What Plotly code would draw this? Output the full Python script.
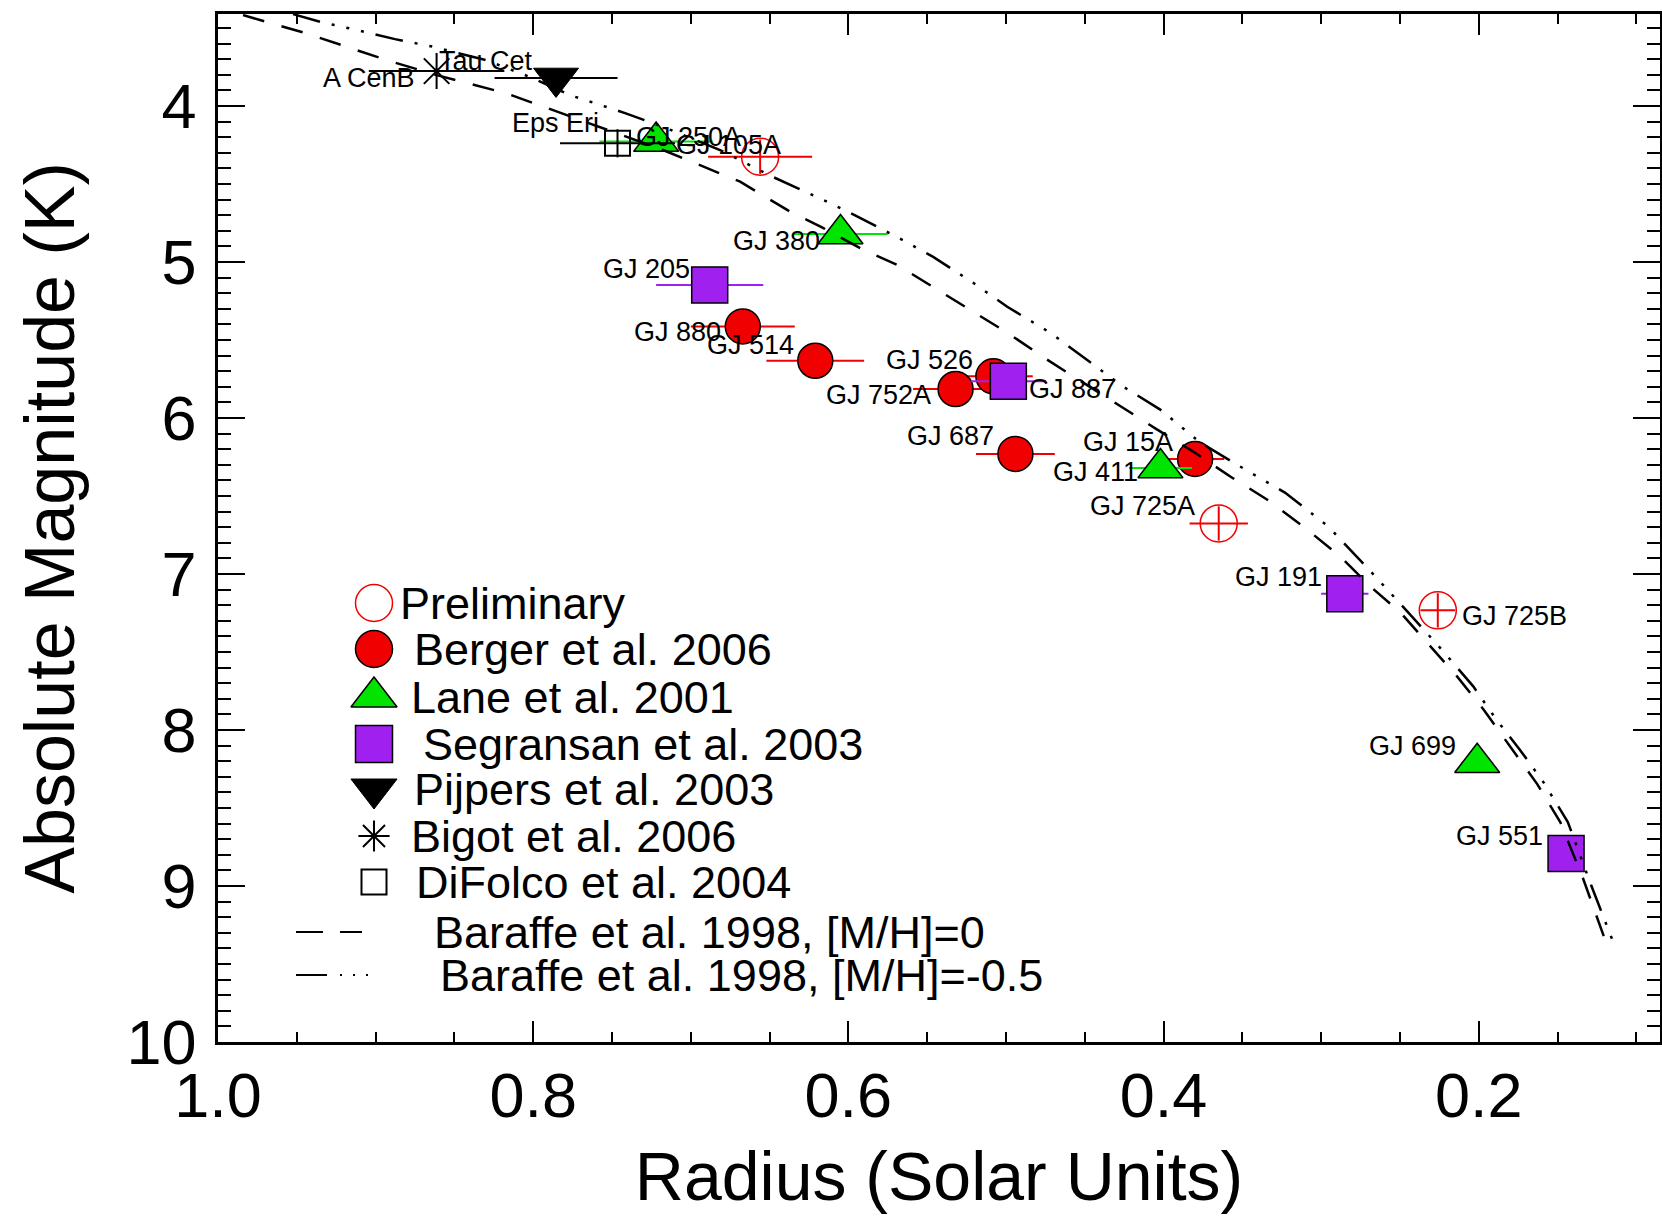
import plotly.graph_objects as go

# ---------------- data ----------------
prelim_names = ["GJ 105A", "GJ 725A", "GJ 725B"]
prelim_radius = [0.656, 0.365, 0.226]
prelim_radius_err = [0.033, 0.0185, 0.011]
prelim_mk = [4.325, 6.676, 7.233]
prelim_mk_err = [0.11, 0.11, 0.11]

berger_names = ["GJ 880", "GJ 514", "GJ 752A", "GJ 526", "GJ 687", "GJ 15A"]
berger_radius = [0.667, 0.621, 0.532, 0.508, 0.494, 0.380]
berger_radius_err = [0.033, 0.031, 0.027, 0.025, 0.025, 0.0185]
berger_mk = [5.413, 5.633, 5.814, 5.733, 6.230, 6.262]

lane_names = ["GJ 250A", "GJ 380", "GJ 411", "GJ 699"]
lane_radius = [0.722, 0.605, 0.402, 0.201]
lane_radius_err = [0.036, 0.030, 0.020, 0.010]
lane_mk = [4.228, 4.82, 6.32, 8.21]

segransan_names = ["GJ 205", "GJ 887", "GJ 191", "GJ 551"]
segransan_radius = [0.688, 0.4985, 0.285, 0.1446]
segransan_radius_err = [0.034, 0.024, 0.015, 0.0]
segransan_mk = [5.148, 5.764, 7.126, 8.791]

pijpers_names = ["Tau Cet"]
pijpers_radius = [0.7855]
pijpers_radius_err = [0.039]
pijpers_mk = [3.82]

bigot_names = ["A CenB"]
bigot_radius = [0.8613]
bigot_radius_err = [0.043]
bigot_mk = [3.776]

difolco_names = ["Eps Eri"]
difolco_radius = [0.7465]
difolco_radius_err = [0.0365]
difolco_mk = [4.239]
difolco_mk_err = [0.09]

# Baraffe et al. 1998 models
baraffe_solar_radius = [0.9841, 0.9437, 0.8929, 0.8612, 0.8168, 0.7874, 0.7176, 0.6687,
                        0.6370, 0.6161, 0.5906, 0.5691, 0.5437, 0.5208, 0.4992, 0.4739,
                        0.4510, 0.4275, 0.4040, 0.3812, 0.3577, 0.3344, 0.3114, 0.2879,
                        0.2689, 0.2498, 0.2308, 0.2138, 0.1971, 0.1800, 0.1629, 0.1483,
                        0.1337, 0.1178]
baraffe_solar_mk = [3.417, 3.535, 3.706, 3.802, 3.919, 4.026, 4.282, 4.485,
                    4.677, 4.781, 4.922, 5.018, 5.178, 5.317, 5.453, 5.626,
                    5.773, 5.927, 6.074, 6.215, 6.375, 6.522, 6.695, 6.887,
                    7.079, 7.246, 7.463, 7.656, 7.867, 8.104, 8.347, 8.590,
                    8.955, 9.403]

baraffe_poor_radius = [0.9524, 0.9353, 0.9162, 0.8877, 0.8635, 0.8299, 0.8020, 0.7766,
                       0.7417, 0.7157, 0.6814, 0.6478, 0.6160, 0.5989, 0.5691, 0.5462,
                       0.5208, 0.4992, 0.4719, 0.4466, 0.4256, 0.4021, 0.3768, 0.3514,
                       0.3230, 0.2955, 0.2680, 0.2425, 0.2220, 0.2035, 0.1890, 0.1742,
                       0.1590, 0.1435, 0.1285, 0.1130]
baraffe_poor_mk = [3.411, 3.460, 3.503, 3.571, 3.620, 3.706, 3.814, 3.930,
                   4.045, 4.141, 4.282, 4.455, 4.602, 4.685, 4.839, 4.967,
                   5.133, 5.287, 5.453, 5.645, 5.799, 5.946, 6.157, 6.311,
                   6.478, 6.695, 6.990, 7.271, 7.502, 7.720, 7.931, 8.123,
                   8.334, 8.590, 9.000, 9.403]

x_title = "Radius (Solar Units)"
y_title = "Absolute Magnitude (K)"

# ---------------- styles ----------------
FONT = "Liberation Sans, Arial, Helvetica, sans-serif"
RED = "#F00000"
GREEN = "#00E400"
PURPLE = "#A020F0"
BLACK = "#000000"

# label placement: name -> (xanchor, xshift px, yshift px)
label_pos = {
    "A CenB": ("right", -20, -7), "Tau Cet": ("right", -21, 17),
    "Eps Eri": ("right", -17, 20), "GJ 250A": ("left", -22, 5),
    "GJ 105A": ("left", -86, 12), "GJ 380": ("right", -19, -7),
    "GJ 205": ("right", -18, 16), "GJ 880": ("right", -20, -6),
    "GJ 514": ("right", -19, 16), "GJ 752A": ("right", -23, -6),
    "GJ 526": ("right", -18, 16), "GJ 887": ("left", 19, -8),
    "GJ 687": ("right", -19, 18), "GJ 15A": ("right", -20, 17),
    "GJ 411": ("right", -20, -4), "GJ 725A": ("right", -22, 17),
    "GJ 191": ("right", -21, 17), "GJ 725B": ("left", 22, -6),
    "GJ 699": ("right", -19, 17), "GJ 551": ("right", -21, 17),
}

fig = go.Figure()


def err(arr, color):
    return dict(type="data", array=arr, color=color, thickness=2, width=0)


series = [
    # names, x, xerr, y, yerr, symbol, size, color, outline color, outline width, bar color
    (berger_names, berger_radius, berger_radius_err, berger_mk, None, "circle", 35, RED, BLACK, 1.5, RED),
    (lane_names, lane_radius, lane_radius_err, lane_mk, None, "triangle-up", 39, GREEN, BLACK, 1.5, GREEN),
    (segransan_names, segransan_radius, segransan_radius_err, segransan_mk, None, "square", 36, PURPLE, BLACK, 1.5, PURPLE),
    (pijpers_names, pijpers_radius, pijpers_radius_err, pijpers_mk, None, "triangle-down", 39, BLACK, BLACK, 1, BLACK),
    (bigot_names, bigot_radius, bigot_radius_err, bigot_mk, None, "asterisk-open", 30, BLACK, BLACK, 2, BLACK),
    (difolco_names, difolco_radius, difolco_radius_err, difolco_mk, difolco_mk_err, "square-open", 25, BLACK, BLACK, 2, BLACK),
    (prelim_names, prelim_radius, prelim_radius_err, prelim_mk, prelim_mk_err, "circle-open", 37, RED, RED, 1.5, RED),
]

for names, xs, xe, ys, ye, sym, size, col, lcol, lw, bcol in series:
    kw = {}
    if ye is not None:
        kw["error_y"] = err(ye, bcol)
    fig.add_trace(go.Scatter(
        x=xs, y=ys, mode="markers", text=names,
        marker=dict(symbol=sym, size=size, color=col, line=dict(color=lcol, width=lw)),
        error_x=err(xe, bcol), showlegend=False, hoverinfo="text", **kw))

# model curves (drawn on top)
DASH = "22px,18px"
DASHDOT = "28px,12px,3px,12px,3px,12px,3px,12px"
fig.add_trace(go.Scatter(x=baraffe_solar_radius, y=baraffe_solar_mk, mode="lines",
                         line=dict(color=BLACK, width=2.5, dash=DASH), showlegend=False))
fig.add_trace(go.Scatter(x=baraffe_poor_radius, y=baraffe_poor_mk, mode="lines",
                         line=dict(color=BLACK, width=2.5, dash=DASHDOT), showlegend=False))

annotations = []
for names, xs, ys in [(prelim_names, prelim_radius, prelim_mk), (berger_names, berger_radius, berger_mk),
                      (lane_names, lane_radius, lane_mk), (segransan_names, segransan_radius, segransan_mk),
                      (pijpers_names, pijpers_radius, pijpers_mk), (bigot_names, bigot_radius, bigot_mk),
                      (difolco_names, difolco_radius, difolco_mk)]:
    for n, xv, yv in zip(names, xs, ys):
        xa, xsft, ysft = label_pos[n]
        annotations.append(dict(x=xv, y=yv, xref="x", yref="y", text=n, showarrow=False,
                                xanchor=xa, yanchor="middle", xshift=xsft, yshift=ysft,
                                font=dict(size=27, family=FONT, color=BLACK)))

# ---------------- hand-drawn legend (on an auxiliary pixel axis) ----------------
legend_labels = ["Preliminary", "Berger et al. 2006", "Lane et al. 2001", "Segransan et al. 2003",
                 "Pijpers et al. 2003", "Bigot et al. 2006", "DiFolco et al. 2004",
                 "Baraffe et al. 1998, [M/H]=0", "Baraffe et al. 1998, [M/H]=-0.5"]
leg_sym_x = 374
leg_rows_y = [603, 649, 697, 744, 789, 836, 882, 932, 975]
leg_text_x = [398, 412, 409, 421, 412, 409, 414, 432, 438]
leg_markers = [("circle-open", 37, RED, RED, 1.5), ("circle", 37, RED, BLACK, 1.5),
               ("triangle-up", 40, GREEN, BLACK, 1.5), ("square", 37, PURPLE, BLACK, 1.5),
               ("triangle-down", 40, BLACK, BLACK, 1), ("asterisk-open", 26, BLACK, BLACK, 2),
               ("square-open", 25, BLACK, BLACK, 2)]
for (sym, size, col, lcol, lw), yy in zip(leg_markers, leg_rows_y):
    fig.add_trace(go.Scatter(x=[leg_sym_x], y=[yy], xaxis="x2", yaxis="y2", mode="markers",
                             marker=dict(symbol=sym, size=size, color=col, line=dict(color=lcol, width=lw)),
                             showlegend=False, hoverinfo="skip"))
fig.add_trace(go.Scatter(x=[296, 362], y=[leg_rows_y[7]] * 2, xaxis="x2", yaxis="y2", mode="lines",
                         line=dict(color=BLACK, width=2, dash="27px,17px"), showlegend=False, hoverinfo="skip"))
fig.add_trace(go.Scatter(x=[296, 372], y=[leg_rows_y[8]] * 2, xaxis="x2", yaxis="y2", mode="lines",
                         line=dict(color=BLACK, width=2, dash="31px,13px,2px,11px,2px,11px,2px,11px"),
                         showlegend=False, hoverinfo="skip"))
for lab, yy, tx in zip(legend_labels, leg_rows_y, leg_text_x):
    annotations.append(dict(x=tx, y=yy, xref="x2", yref="y2", text=lab, showarrow=False,
                            xanchor="left", yanchor="middle",
                            font=dict(size=45, family=FONT, color=BLACK)))

axis_common = dict(showline=True, linewidth=2.5, linecolor=BLACK, mirror="ticks", automargin=False,
                   ticks="inside", tickwidth=2, tickcolor=BLACK, showgrid=False, zeroline=False)

fig.update_layout(
    width=1662, height=1216,
    margin=dict(l=218, r=2, t=14, b=174),
    paper_bgcolor="white", plot_bgcolor="white",
    font=dict(family=FONT, color=BLACK),
    showlegend=False,
    annotations=annotations,
    xaxis=dict(range=[1.0, 0.085], tickmode="linear", tick0=0, dtick=0.2, tickformat=".1f",
               ticklen=21, tickfont=dict(size=63), ticklabelstandoff=-3,
               minor=dict(ticks="inside", ticklen=10, tickwidth=2, tickcolor=BLACK, dtick=0.05, tick0=0,
                          showgrid=False),
               title=dict(text=x_title, font=dict(size=68), standoff=24),
               **axis_common),
    yaxis=dict(range=[10, 3.41], tickmode="linear", tick0=0, dtick=1,
               ticklen=27, tickfont=dict(size=63), ticklabelstandoff=6,
               minor=dict(ticks="inside", ticklen=13, tickwidth=2, tickcolor=BLACK, dtick=0.1, tick0=0,
                          showgrid=False),
               title=dict(text=y_title, font=dict(size=70), standoff=30),
               **axis_common),
    xaxis2=dict(domain=[0, 1], anchor="y2", overlaying="x", range=[218, 1660], visible=False),
    yaxis2=dict(domain=[0, 1], anchor="x2", overlaying="y", range=[1042, 14], visible=False),
)

fig.write_html("out.html", config={"displayModeBar": False},
               post_script="document.body.style.margin='0';document.body.style.overflow='hidden';")
